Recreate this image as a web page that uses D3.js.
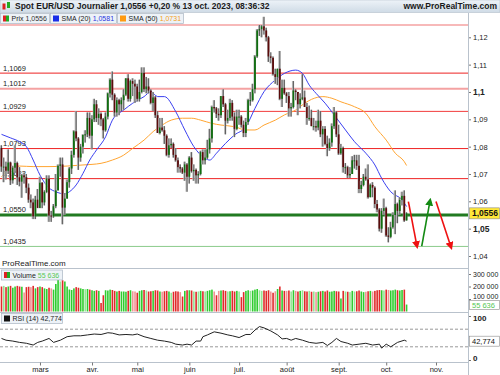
<!DOCTYPE html>
<html>
<head>
<meta charset="utf-8">
<script src="https://cdn.jsdelivr.net/npm/d3@7"></script>
<style>
body { margin: 0; background: #fff; }
svg { display: block; font-family: "Liberation Sans", Arial, sans-serif; }
</style>
</head>
<body>
<div id="chart"></div>
<script>
// ---- data (EUR/USD daily, 6 Feb 2023 -> 13 Oct 2023, one entry per trading day)
var opens = [
  1.0795,1.0727,1.0727,1.0712,1.0742,1.0677,1.0723,1.0740,1.0688,1.0672,1.0695,1.0688,1.0650,1.0606,1.0596,1.0545,1.0606,
  1.0576,1.0668,1.0596,1.0634,1.0683,1.0548,1.0545,1.0582,1.0640,1.0730,1.0735,1.0577,1.0610,1.0670,1.0720,1.0770,1.0856,1.0830,1.0760,1.0800,1.0843,1.0845,1.0905,
  1.0840,1.0900,1.0955,1.0905,1.0920,1.0900,1.0860,1.0910,1.0995,1.1045,1.0990,1.0925,1.0970,1.0955,1.0970,1.0990,1.1050,1.0975,1.1040,1.1030,
  1.1020,1.0975,1.1000,1.1070,1.1010,1.1020,1.1005,1.0960,1.0980,1.0915,1.0850,1.0870,1.0860,1.0840,1.0770,1.0805,1.0810,1.0770,1.0750,1.0725,1.0720,1.0705,1.0735,
  1.0690,1.0760,1.0710,1.0715,1.0695,1.0700,1.0780,1.0750,1.0760,1.0790,1.0830,1.0945,1.0940,1.0920,1.0915,1.0985,1.0955,1.0895,1.0905,1.0960,1.0910,1.0865,
  1.0910,1.0910,1.0880,1.0850,1.0890,1.0970,1.0970,1.1010,1.1130,1.1225,1.1230,1.1240,1.1225,1.1200,1.1130,1.1125,1.1065,1.1055,1.1085,1.0975,1.1015,
  1.0995,1.0985,1.0940,1.0945,1.1005,1.1000,1.0955,1.0975,1.0980,1.0945,1.0905,1.0905,1.0875,1.0875,1.0870,1.0895,1.0845,1.0865,1.0810,1.0795,1.0815,1.0875,1.0925,
  1.0845,1.0775,1.0795,1.0725,1.0725,1.0695,1.0700,1.0750,1.0750,1.0730,1.0645,1.0660,1.0690,1.0680,1.0615,1.0660,1.0650,1.0590,1.0570,1.0500,1.0565,
  1.0575,1.0475,1.0470,1.0505,1.0550,1.0590,1.0565,1.0605,1.0620,1.0530
];
var highs = [
  1.0805,1.0760,1.0745,1.0790,1.0745,1.0730,1.0805,1.0745,1.0725,1.0700,1.0705,1.0700,1.0665,1.0625,1.0610,1.0620,1.0645,
  1.0690,1.0670,1.0640,1.0695,1.0695,1.0565,1.0590,1.0700,1.0735,1.0760,1.0760,1.0630,1.0680,1.0725,1.0785,1.0860,1.0930,1.0835,1.0810,1.0845,1.0860,1.0925,1.0925,
  1.0915,1.0975,1.0970,1.0940,1.0925,1.0905,1.0925,1.0998,1.1050,1.1075,1.0995,1.0980,1.0975,1.0980,1.1010,1.1050,1.1065,1.1045,1.1050,1.1045,
  1.1030,1.1045,1.1090,1.1090,1.1055,1.1050,1.1010,1.1000,1.0985,1.0930,1.0905,1.0905,1.0875,1.0845,1.0830,1.0830,1.0815,1.0795,1.0760,1.0735,1.0725,1.0745,1.0740,
  1.0765,1.0780,1.0735,1.0720,1.0710,1.0785,1.0790,1.0790,1.0825,1.0865,1.0950,1.0970,1.0945,1.0940,1.0985,1.1010,1.0960,1.0935,1.0975,1.0970,1.0925,1.0935,
  1.0935,1.0915,1.0895,1.0905,1.0975,1.1000,1.1030,1.1135,1.1230,1.1245,1.1245,1.1275,1.1235,1.1205,1.1145,1.1130,1.1085,1.1085,1.1150,1.1045,1.1045,
  1.1000,1.1000,1.0960,1.1040,1.1010,1.1000,1.0995,1.1065,1.1005,1.0960,1.0950,1.0935,1.0905,1.0895,1.0935,1.0930,1.0875,1.0875,1.0840,1.0830,1.0885,1.0945,1.0930,
  1.0880,1.0810,1.0800,1.0740,1.0730,1.0725,1.0765,1.0770,1.0770,1.0770,1.0675,1.0700,1.0720,1.0735,1.0665,1.0670,1.0655,1.0605,1.0575,1.0575,1.0610,
  1.0580,1.0505,1.0525,1.0560,1.0640,1.0595,1.0615,1.0635,1.0640,1.0560
];
var lows = [
  1.0708,1.0670,1.0680,1.0700,1.0660,1.0665,1.0705,1.0660,1.0655,1.0613,1.0665,1.0630,1.0595,1.0575,1.0535,1.0535,1.0575,
  1.0575,1.0575,1.0585,1.0630,1.0525,1.0525,1.0540,1.0575,1.0640,1.0690,1.0516,1.0550,1.0610,1.0650,1.0700,1.0760,1.0820,1.0715,1.0745,1.0775,1.0815,1.0835,1.0830,
  1.0790,1.0890,1.0890,1.0880,1.0875,1.0830,1.0855,1.0900,1.0980,1.0970,1.0910,1.0910,1.0915,1.0930,1.0935,1.0985,1.0965,1.0965,1.0985,1.0960,
  1.0965,1.0965,1.0995,1.1000,1.0995,1.0995,1.0955,1.0930,1.0905,1.0850,1.0845,1.0855,1.0810,1.0765,1.0760,1.0795,1.0760,1.0745,1.0705,1.0705,1.0700,1.0675,1.0635,
  1.0665,1.0705,1.0675,1.0665,1.0665,1.0695,1.0735,1.0735,1.0755,1.0775,1.0815,1.0925,1.0905,1.0895,1.0905,1.0945,1.0845,1.0885,1.0895,1.0895,1.0835,1.0860,
  1.0880,1.0870,1.0835,1.0835,1.0880,1.0950,1.0965,1.0995,1.1125,1.1205,1.1200,1.1210,1.1185,1.1110,1.1105,1.1060,1.1030,1.1025,1.0970,1.0945,1.0990,
  1.0960,1.0910,1.0910,1.0940,1.0970,1.0915,1.0940,1.0970,1.0945,1.0880,1.0895,1.0875,1.0860,1.0855,1.0860,1.0835,1.0800,1.0805,1.0765,1.0785,1.0800,1.0865,1.0835,
  1.0770,1.0770,1.0705,1.0700,1.0685,1.0685,1.0700,1.0720,1.0715,1.0630,1.0630,1.0655,1.0675,1.0610,1.0615,1.0615,1.0575,1.0560,1.0490,1.0485,1.0550,
  1.0470,1.0450,1.0465,1.0500,1.0480,1.0520,1.0550,1.0585,1.0525,1.0530
];
var closes = [
  1.0727,1.0727,1.0712,1.0742,1.0677,1.0723,1.0740,1.0688,1.0672,1.0695,1.0688,1.0650,1.0606,1.0596,1.0545,1.0606,1.0576,
  1.0668,1.0596,1.0634,1.0683,1.0548,1.0545,1.0582,1.0640,1.0730,1.0735,1.0577,1.0610,1.0670,1.0720,1.0770,1.0856,1.0830,1.0760,1.0800,1.0843,1.0845,1.0905,1.0840,
  1.0900,1.0955,1.0905,1.0920,1.0900,1.0860,1.0910,1.0995,1.1045,1.0990,1.0925,1.0970,1.0955,1.0970,1.0990,1.1050,1.0975,1.1040,1.1030,1.1020,
  1.0975,1.1000,1.1070,1.1010,1.1020,1.1005,1.0960,1.0980,1.0915,1.0850,1.0870,1.0860,1.0840,1.0770,1.0805,1.0810,1.0770,1.0750,1.0725,1.0720,1.0705,1.0735,1.0690,
  1.0760,1.0710,1.0715,1.0695,1.0700,1.0780,1.0750,1.0760,1.0790,1.0830,1.0945,1.0940,1.0920,1.0915,1.0985,1.0955,1.0895,1.0905,1.0960,1.0910,1.0865,1.0910,
  1.0910,1.0880,1.0850,1.0890,1.0970,1.0970,1.1010,1.1130,1.1225,1.1230,1.1240,1.1225,1.1200,1.1130,1.1125,1.1065,1.1055,1.1085,1.0975,1.1015,1.0995,
  1.0985,1.0940,1.0945,1.1005,1.1000,1.0955,1.0975,1.0980,1.0945,1.0905,1.0905,1.0875,1.0875,1.0870,1.0895,1.0845,1.0865,1.0810,1.0795,1.0815,1.0875,1.0925,1.0845,
  1.0775,1.0795,1.0725,1.0725,1.0695,1.0700,1.0750,1.0750,1.0730,1.0645,1.0660,1.0690,1.0680,1.0615,1.0660,1.0650,1.0590,1.0570,1.0500,1.0565,1.0575,
  1.0475,1.0470,1.0505,1.0550,1.0590,1.0565,1.0605,1.0620,1.0530,1.0556
];
// volume in thousands
var volumes = [
  200,205,195,200,205,190,200,205,200,198,152,195,198,195,205,185,195,
  200,195,185,180,190,185,175,220,257,240,250,240,200,176,172,185,195,190,185,180,178,180,175,
  170,165,170,165,68,130,170,168,175,172,165,160,165,160,160,158,165,170,162,160,
  150,165,170,172,168,160,162,165,170,168,160,158,162,165,160,150,158,162,160,155,120,165,170,
  170,168,160,158,160,165,162,160,165,170,175,160,130,165,168,170,165,160,162,165,160,165,
  160,115,155,165,170,165,168,175,180,170,165,168,165,170,160,150,162,180,200,168,165,
  165,168,160,170,165,160,165,170,162,160,165,158,160,155,158,162,165,160,168,158,160,165,162,
  160,104,165,160,158,155,165,160,162,168,160,155,158,162,165,160,165,170,172,170,168,
  175,172,168,170,175,170,168,172,175,55.636
];

// moving averages: trading-day index / value
var sma20Day = [0,4,8,11,14,17,21,24,28,30,33,36,39,42,46,49,54,58,63,66,69,72,77,81,85,90,92,95,99,103,108,112,116,121,125,130,133,136,139,143,147,152,156,161,165,168,172,177,179];
var sma20 = [1.0845,1.0832,1.0818,1.0800,1.0751,1.0696,1.0649,1.0635,1.0627,1.0635,1.0660,1.0702,1.0751,1.0788,1.0836,1.0897,1.0934,1.0959,1.0983,1.1001,1.0983,1.0983,1.0928,1.0861,1.0800,1.0757,1.0751,1.0776,1.0812,1.0843,1.0873,1.0940,1.1001,1.1044,1.1068,1.1080,1.1068,1.1025,1.0995,1.0959,1.0916,1.0861,1.0818,1.0776,1.0733,1.0684,1.0635,1.0605,1.0581];
var sma50Day = [0,4,8,14,21,29,36,44,49,54,58,63,67,71,75,80,84,88,93,97,103,108,112,116,121,125,130,134,137,142,146,150,156,161,165,170,174,178,179];
var sma50 = [1.0690,1.0721,1.0729,1.0727,1.0727,1.0729,1.0733,1.0739,1.0751,1.0769,1.0794,1.0824,1.0855,1.0879,1.0897,1.0904,1.0904,1.0897,1.0885,1.0879,1.0873,1.0861,1.0861,1.0879,1.0897,1.0916,1.0934,1.0959,1.0973,1.0983,1.0977,1.0964,1.0946,1.0922,1.0873,1.0824,1.0776,1.0745,1.0731];

// RSI(14)
var rsiDay = [0,2,5,8,11,14,16,18,21,23,26,29,32,35,38,41,44,47,49,52,55,58,60,63,66,69,72,75,77,80,82,84,86,88,89,91,94,97,100,102,105,108,110,112,114,116,119,122,124,126,128,130,133,136,139,142,144,146,148,150,153,155,158,161,164,167,168,170,172,175,178,179];
var rsiValue = [49,45,43,40,38,34,40,43,49,40,45,53,55,55,57,59,58,62,61,57,58,57,59,53,49,45,43,40,36,34,36,34,43,43,53,57,64,61,57,55,51,58,58,68,76,73,66,57,48,49,45,49,45,40,38,40,33,40,49,42,38,34,36,38,34,36,27,36,30,40,45,42.774];

// horizontal levels drawn on the price panel
var levelValues = [1.1245, 1.1069, 1.1012, 1.0929, 1.0793, 1.0683, 1.0550, 1.0435];
var levelLabels = ["", "1,1069", "1,1012", "1,0929", "1,0793", "1,0683", "1,0550", "1,0435"];
var levelColors = ["#f4a2a2", "#ee2222", "#f4a2a2", "#f23c3c", "#ee2222", "#ee2222", "#217a21", "#8ccc8c"];
var levelWidths = [1.5, 1, 2, 1, 1, 1, 3, 1];

// arrows: [day, price] start -> end
var arrowFrom = [[179.8, 1.0599], [185.7, 1.0436], [192.0, 1.0599]];
var arrowTo = [[183.5, 1.0440], [189.3, 1.0599], [198.5, 1.0436]];
var arrowColors = ["#ee1111", "#138a13", "#ee1111"];

var priceTicks = [1.04, 1.05, 1.06, 1.07, 1.08, 1.09, 1.10, 1.11, 1.12];
var volumeTicks = [100, 200, 300];
var volumeTickLabels = ["100 000", "200 000", "300 000"];
var rsiTicks = [0, 100];
var monthDays = [17, 40, 60, 83, 105, 126, 149, 170, 192];
var monthLabels = ["mars", "avr.", "mai", "juin", "juil.", "août", "sept.", "oct.", "nov."];

var lastPrice = "1,0556";
var lastVolume = "55 636";
var lastRsi = "42,774";

// ---- layout
var width = 500, height = 375;
var plotRight = 468;

var svg = d3.select("#chart").append("svg")
    .attr("width", width)
    .attr("height", height);

var defs = svg.append("defs");
defs.append("clipPath").attr("id", "clipMain")
    .append("rect").attr("x", 0).attr("y", 13).attr("width", plotRight).attr("height", 247);
var grad = defs.append("linearGradient").attr("id", "hdr").attr("x1", 0).attr("x2", 0).attr("y1", 0).attr("y2", 1);
grad.append("stop").attr("offset", "0%").attr("stop-color", "#eef3f8");
grad.append("stop").attr("offset", "100%").attr("stop-color", "#cfdbe6");
arrowColors.forEach(function (c, i) {
    defs.append("marker").attr("id", "arrow" + i)
        .attr("viewBox", "0 0 10 10").attr("refX", 5).attr("refY", 5)
        .attr("markerWidth", 5).attr("markerHeight", 5)
        .attr("orient", "auto-start-reverse")
        .append("path").attr("d", "M0,0 L10,5 L0,10 z").attr("fill", c);
});

var x = d3.scaleLinear().domain([0, 206]).range([1.5, 1.5 + 206 * 2.263]);
var y = d3.scaleLinear().domain([1.04, 1.12]).range([256, 37.3]);
var yVol = d3.scaleLinear().domain([0, 300]).range([311.5, 274]);
var yRsi = d3.scaleLinear().domain([0, 100]).range([360, 316]);

// ---- price panel
var main = svg.append("g").attr("clip-path", "url(#clipMain)");

main.selectAll(".level")
    .data(levelValues)
    .enter().append("line")
    .attr("class", "level")
    .attr("x1", 0).attr("x2", plotRight)
    .attr("y1", function (d) { return y(d); })
    .attr("y2", function (d) { return y(d); })
    .attr("stroke", function (d, i) { return levelColors[i]; })
    .attr("stroke-width", function (d, i) { return levelWidths[i]; });

main.selectAll(".levelLabel")
    .data(levelValues)
    .enter().append("text")
    .attr("x", 3)
    .attr("y", function (d) { return y(d) - 2.5; })
    .attr("font-size", "7.5px")
    .attr("fill", "#222")
    .text(function (d, i) { return levelLabels[i]; });

var smaLine = d3.line()
    .x(function (d) { return x(d[0]); })
    .y(function (d) { return y(d[1]); })
    .curve(d3.curveMonotoneX);

main.append("path")
    .datum(sma50Day.map(function (d, i) { return [d, sma50[i]]; }))
    .attr("d", smaLine)
    .attr("fill", "none")
    .attr("stroke", "#ffa531")
    .attr("stroke-width", 1);

main.append("path")
    .datum(sma20Day.map(function (d, i) { return [d, sma20[i]]; }))
    .attr("d", smaLine)
    .attr("fill", "none")
    .attr("stroke", "#3a3ff0")
    .attr("stroke-width", 1);

var candles = closes.map(function (c, i) {
    return { i: i, o: opens[i], h: highs[i], l: lows[i], c: c };
});

var cg = main.selectAll(".candle")
    .data(candles)
    .enter().append("g")
    .attr("class", "candle");

// grey shadow, then dark wick, then body
cg.append("line")
    .attr("x1", function (d) { return x(d.i) - 0.4; })
    .attr("x2", function (d) { return x(d.i) - 0.4; })
    .attr("y1", function (d) { return y(d.h); })
    .attr("y2", function (d) { return y(d.l); })
    .attr("stroke", "#b6b6b6")
    .attr("stroke-width", 2.2);

cg.append("line")
    .attr("x1", function (d) { return x(d.i); })
    .attr("x2", function (d) { return x(d.i); })
    .attr("y1", function (d) { return y(d.h); })
    .attr("y2", function (d) { return y(d.l); })
    .attr("stroke", "#3a3a3a")
    .attr("stroke-width", 0.7);

cg.append("rect")
    .attr("x", function (d) { return x(d.i) - 0.9; })
    .attr("width", 1.8)
    .attr("y", function (d) { return y(Math.max(d.o, d.c)); })
    .attr("height", function (d) { return Math.max(1, Math.abs(y(d.o) - y(d.c))); })
    .attr("fill", function (d) { return d.c >= d.o ? "#0f6e0f" : "#5c0b0b"; });

// arrows
main.selectAll(".arrow")
    .data(arrowFrom)
    .enter().append("line")
    .attr("x1", function (d) { return x(d[0]); })
    .attr("y1", function (d) { return y(d[1]); })
    .attr("x2", function (d, i) { return x(arrowTo[i][0]); })
    .attr("y2", function (d, i) { return y(arrowTo[i][1]); })
    .attr("stroke", function (d, i) { return arrowColors[i]; })
    .attr("stroke-width", 1.6)
    .attr("marker-end", function (d, i) { return "url(#arrow" + i + ")"; });

// ---- volume panel
svg.append("text")
    .attr("x", 2).attr("y", 266)
    .attr("font-size", "8px").attr("fill", "#222")
    .text("ProRealTime.com");

svg.selectAll(".vol")
    .data(volumes)
    .enter().append("rect")
    .attr("class", "vol")
    .attr("x", function (d, i) { return x(i) - 0.8; })
    .attr("width", 1.6)
    .attr("y", function (d) { return yVol(d); })
    .attr("height", function (d) { return yVol(0) - yVol(d); })
    .attr("fill", function (d, i) {
        var up = closes[i] >= opens[i];
        var pale = Math.abs(closes[i] - opens[i]) < 0.0012;
        if (up) return pale ? "#96e696" : "#2fcc2f";
        return pale ? "#f09595" : "#e02a2a";
    });

// ---- RSI panel
svg.selectAll(".rsiGuide")
    .data([70, 30])
    .enter().append("line")
    .attr("x1", 0).attr("x2", plotRight)
    .attr("y1", function (d) { return yRsi(d); })
    .attr("y2", function (d) { return yRsi(d); })
    .attr("stroke", "#999")
    .attr("stroke-dasharray", "3,2");

svg.append("path")
    .datum(rsiDay.map(function (d, i) { return [d, rsiValue[i]]; }))
    .attr("d", d3.line().x(function (d) { return x(d[0]); }).y(function (d) { return yRsi(d[1]); }))
    .attr("fill", "none")
    .attr("stroke", "#222")
    .attr("stroke-width", 1);

// ---- frame lines
var frame = svg.append("g").attr("stroke", "#b9c2cc").attr("stroke-width", 1);
frame.append("line").attr("x1", 0).attr("x2", plotRight).attr("y1", 268.5).attr("y2", 268.5);
frame.append("line").attr("x1", 0).attr("x2", plotRight).attr("y1", 312.5).attr("y2", 312.5);
frame.append("line").attr("x1", 0).attr("x2", plotRight).attr("y1", 362.5).attr("y2", 362.5);

// ---- axes
function priceFormat(d) {
    return d3.format(".2f")(d).replace(/0$/, "").replace(".", ",");
}

var priceAxis = svg.append("g")
    .attr("transform", "translate(" + plotRight + ",0)")
    .call(d3.axisRight(y).tickValues(priceTicks).tickSize(3).tickPadding(2).tickFormat(priceFormat));
priceAxis.select(".domain").remove();
priceAxis.selectAll("text")
    .attr("fill", "#222")
    .attr("font-weight", function (d) { return Math.round(d * 100) % 5 == 0 ? "bold" : "normal"; })
    .style("font-size", function (d) { return Math.round(d * 100) % 5 == 0 ? "8.5px" : "7.5px"; });

var volAxis = svg.append("g")
    .attr("transform", "translate(" + plotRight + ",0)")
    .call(d3.axisRight(yVol).tickValues(volumeTicks).tickSize(3).tickPadding(2)
        .tickFormat(function (d, i) { return volumeTickLabels[i]; }));
volAxis.select(".domain").remove();
volAxis.selectAll("text").attr("font-size", "7px").attr("fill", "#222")
    .attr("dy", function (d) { return d == 100 ? "-0.05em" : "0.32em"; });

var rsiAxis = svg.append("g")
    .attr("transform", "translate(" + plotRight + ",0)")
    .call(d3.axisRight(yRsi).tickValues(rsiTicks).tickSize(3).tickPadding(2));
rsiAxis.select(".domain").remove();
rsiAxis.selectAll("text").attr("font-size", "8px").attr("font-weight", "bold").attr("fill", "#222")
    .attr("dy", function (d) { return d == 100 ? "0.6em" : "0"; });

var monthAxis = svg.append("g")
    .attr("transform", "translate(0,362.5)")
    .call(d3.axisBottom(x).tickValues(monthDays).tickSize(3).tickPadding(1)
        .tickFormat(function (d, i) { return monthLabels[i]; }));
monthAxis.select(".domain").remove();
monthAxis.selectAll("text").attr("font-size", "7.5px").attr("fill", "#222");
svg.selectAll(".tick line").attr("stroke", "#777");

svg.append("line")
    .attr("x1", plotRight + 0.5).attr("x2", plotRight + 0.5)
    .attr("y1", 13).attr("y2", 375)
    .attr("stroke", "#b9c2cc");

// ---- value boxes on the right
function valueBox(yPos, h, txt, fill, color, bold) {
    var g = svg.append("g");
    g.append("rect").attr("x", 469.5).attr("y", yPos - h / 2).attr("width", 30).attr("height", h)
        .attr("fill", fill).attr("stroke", "#8a8a8a").attr("stroke-width", 0.6);
    g.append("text").attr("x", 472).attr("y", yPos + 3)
        .attr("font-size", bold ? "8.5px" : "7.5px")
        .attr("font-weight", bold ? "bold" : "normal")
        .attr("fill", color).text(txt);
}
valueBox(y(1.0556), 11, lastPrice, "#ffe838", "#111", true);
valueBox(yVol(55.636) + 0.5, 9, lastVolume, "#fff", "#55c855", false);
valueBox(yRsi(42.774), 10, lastRsi, "#fff", "#111", false);

// ---- header
svg.append("rect").attr("x", 0).attr("y", 0).attr("width", width).attr("height", 12.5)
    .attr("fill", "url(#hdr)").attr("stroke", "#aab6c2").attr("stroke-width", 0.5);
svg.append("rect").attr("x", 2.5).attr("y", 3.5).attr("width", 3).attr("height", 6).attr("fill", "#d22");
svg.append("rect").attr("x", 7).attr("y", 2).attr("width", 3).attr("height", 6).attr("fill", "#2a2");
svg.append("text").attr("x", 15).attr("y", 9.3)
    .attr("font-size", "8.5px").attr("font-weight", "bold").attr("fill", "#1a1a1a")
    .text("Spot EUR/USD Journalier 1,0556 +0,20 % 13 oct. 2023, 08:36:32");
svg.append("text").attr("x", 497).attr("y", 9.3).attr("text-anchor", "end")
    .attr("font-size", "8.5px").attr("font-weight", "bold").attr("fill", "#1a1a1a")
    .text("www.ProRealTime.com");

// legend boxes
function legendBox(x0, w, yTop, label, value, valueColor, icon) {
    var g = svg.append("g");
    g.append("rect").attr("x", x0 + 0.5).attr("y", yTop + 0.5).attr("width", w).attr("height", 10)
        .attr("fill", "#edf2f7").attr("stroke", "#aab6c2").attr("stroke-width", 0.7);
    if (icon == "prix") {
        g.append("rect").attr("x", x0 + 3).attr("y", yTop + 2.5).attr("width", 3).attr("height", 6).attr("fill", "#d22");
        g.append("rect").attr("x", x0 + 6).attr("y", yTop + 2.5).attr("width", 3).attr("height", 6).attr("fill", "#2a2");
    } else {
        g.append("rect").attr("x", x0 + 3).attr("y", yTop + 2.5).attr("width", 6).attr("height", 6).attr("fill", icon);
    }
    var t = g.append("text").attr("x", x0 + 11.5).attr("y", yTop + 8.2).attr("font-size", "7px").attr("fill", "#222");
    t.append("tspan").text(label + " ");
    t.append("tspan").attr("fill", valueColor).text(value);
}
legendBox(0, 49, 13, "Prix", "1,0556", "#333", "prix");
legendBox(50, 66, 13, "SMA (20)", "1,0581", "#2a36e0", "#1a2ee8");
legendBox(117, 66, 13, "SMA (50)", "1,0731", "#f5a020", "#ff9a10");
legendBox(1, 61, 269.5, "Volume", lastVolume, "#55c855", "prix");
legendBox(1, 61, 313, "RSI (14)", lastRsi, "#222", "#111");
</script>
</body>
</html>
